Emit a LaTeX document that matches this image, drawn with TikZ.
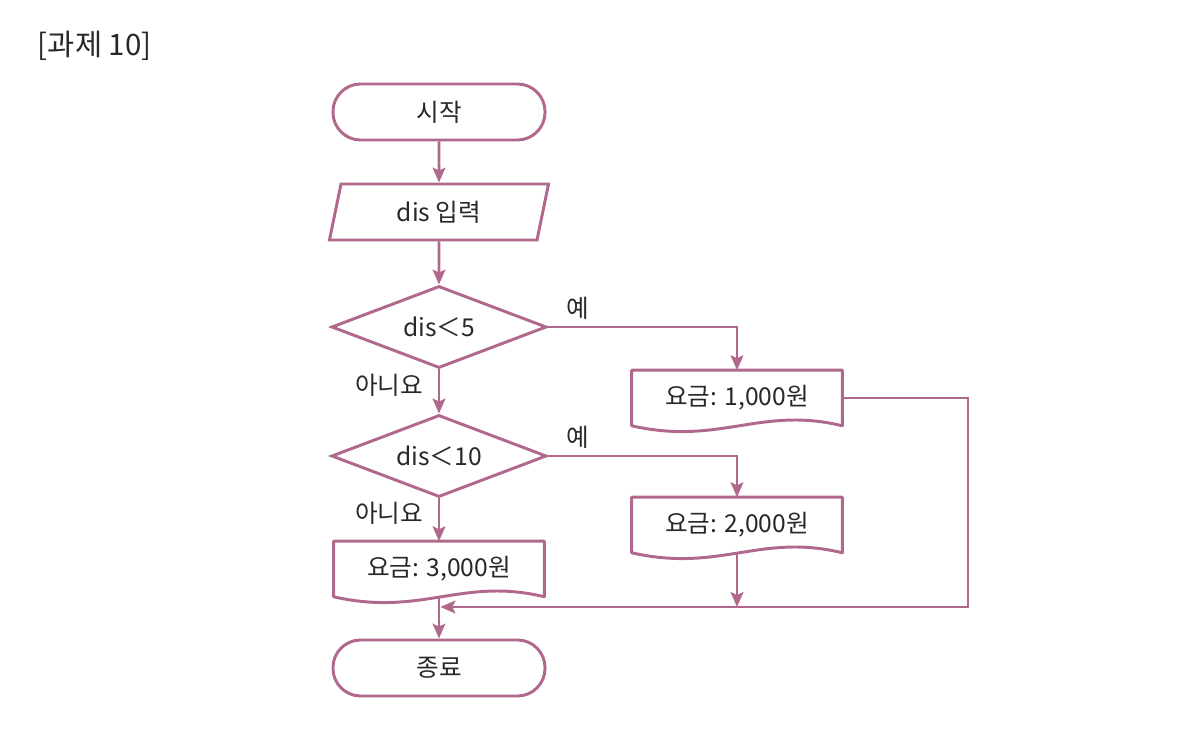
\documentclass[tikz,border=0pt]{standalone}
\usepackage{fontspec}
\setmainfont{Noto Sans CJK KR}
\usepackage{xcolor}
\usepackage{tikz}
\usetikzlibrary{shapes.geometric, arrows.meta, positioning, calc}

\definecolor{flowline}{RGB}{176,104,140}
\definecolor{flowtext}{RGB}{40,40,40}

\tikzset{
  terminal/.style={draw=flowline, line width=2.1pt, rounded corners=0.69cm, minimum width=5.3cm, minimum height=1.4cm},
  inputbox/.style={trapezium, trapezium left angle=70, trapezium right angle=110, trapezium stretches body, draw=flowline, line width=2.1pt, minimum width=5.475cm, minimum height=1.4cm},
  decision/.style={diamond, aspect=2.62, draw=flowline, line width=2.1pt, minimum width=5.375cm, minimum height=2.05cm, inner sep=0pt},
  docbox/.style={minimum width=5.25cm, minimum height=1.375cm},
  flow/.style={draw=flowline, line width=2.1pt, -{Stealth[length=10.5pt, width=9pt, inset=2pt]}},
}

% document symbol drawn round a named node
\newcommand{\docoutline}[1]{%
  \draw[flowline, line width=2.1pt, line join=round] (#1.south west) -- (#1.north west) -- (#1.north east) -- (#1.south east)
    .. controls ($(#1.south east)+(-82,-20)$) and ($(#1.south west)+(88,20)$) .. (#1.south west) -- cycle;}

\begin{document}
\begin{tikzpicture}[x=0.025cm, y=-0.025cm, font=\fontsize{17.5pt}{20pt}\selectfont, text=flowtext]
    \useasboundingbox (0,0) rectangle (1196,740);

    % Title
    \node[anchor=west, font=\fontsize{21pt}{24pt}\selectfont] (title) at (33,46) {[과제 10]};

    % Start and input
    \node[terminal] (start) at (439,112) {시작};
    \node[inputbox] (input) at (439,212) {dis 입력};

    % Decisions
    \node[decision] (dec1) at (439,327) {dis＜5};
    \node[decision] (dec2) at (439,456) {dis＜10};

    % Fees
    \node[docbox] (fee1) at (737,398) {요금: 1,000원};
    \node[docbox] (fee2) at (737,525) {요금: 2,000원};
    \node[docbox] (fee3) at (439,569) {요금: 3,000원};
    \docoutline{fee1}
    \docoutline{fee2}
    \docoutline{fee3}

    % End
    \node[terminal] (stop) at (439,668) {종료};

    \coordinate (merge) at (439,607);
    \coordinate (corner) at (968,607);

    % Connectors
    \draw[flow] (start) -- (input);
    \draw[flow] (input) -- (dec1);
    \draw[flow] (dec1) -- node[pos=0.35, left=7pt] {아니요} (dec2);
    \draw[flow] (dec1.east) -| node[pos=0.08, above=1pt] {예} (fee1.north);
    \draw[flow] (dec2.east) -| node[pos=0.08, above=1pt] {예} (fee2.north);
    \draw[flow] (dec2) -- node[pos=0.35, left=7pt] {아니요} (fee3);
    \draw[flow] (fee3) -- (stop);
    \draw[flow] (fee2) -- (fee2 |- merge);
    \draw[flow, shorten >=1pt] (fee1.east) -| (corner) -- (merge);
\end{tikzpicture}
\end{document}
